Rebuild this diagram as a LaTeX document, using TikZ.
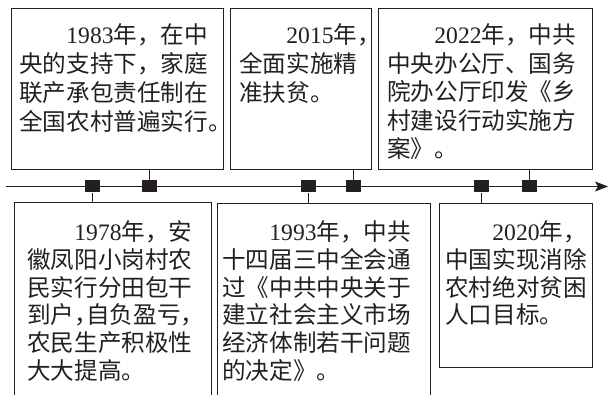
\documentclass[tikz,border=0pt]{standalone}
\usepackage{fontspec}
\setmainfont{Liberation Serif}
\newfontfamily\cjk{Noto Sans CJK SC}
\usetikzlibrary{arrows.meta}
\definecolor{ink}{HTML}{231F20}
\newcommand\yr[1]{{\rmfamily #1}}
\newcommand\hc[1]{\makebox[0.5em][l]{#1}}
\tikzset{
  txt/.style={anchor=base west, inner sep=0pt, font=\cjk\fontsize{23.6}{28}\selectfont, text=ink},
  boxn/.style={draw=ink, line width=0.9pt, rectangle, inner sep=0pt, anchor=north west},
  sq/.style={fill=ink, rectangle, minimum width=15pt, minimum height=12pt, inner sep=0pt},
  ln/.style={draw=ink, line width=0.9pt}
}
\begin{document}
\begin{tikzpicture}[x=1pt,y=-1pt]
\useasboundingbox (0,0) rectangle (610,395);
% boxes
\node[boxn, minimum width=212pt, minimum height=161pt] (b1) at (11,8) {};
\node[boxn, minimum width=141pt, minimum height=161pt] (b2) at (230,8) {};
\node[boxn, minimum width=214pt, minimum height=161pt] (b3) at (378,8) {};
\node[boxn, minimum width=197pt, minimum height=230pt] (b4) at (14,202.5) {};
\node[boxn, minimum width=213pt, minimum height=230pt] (b5) at (217,203) {};
\node[boxn, minimum width=153pt, minimum height=164pt] (b6) at (439,203) {};
% timeline
\coordinate (t0) at (6,186.5);
\coordinate (t1) at (608,186.5);
\draw[ln, -{Stealth[length=13pt,width=10pt,inset=3pt]}] (t0) -- (t1);
\node[sq] (s1) at (92.5,186.5) {};
\node[sq] (s2) at (149.5,186.5) {};
\node[sq] (s3) at (308,186.5) {};
\node[sq] (s4) at (353,186.5) {};
\node[sq] (s5) at (481,186.5) {};
\node[sq] (s6) at (529,186.5) {};
% connectors
\draw[ln] (s2.north) -- (s2.north |- b1.south);
\draw[ln] (s4.north) -- (s4.north |- b2.south);
\draw[ln] (s6.north) -- (s6.north |- b3.south);
\draw[ln] (s1.south) -- (s1.south |- b4.north);
\draw[ln] (s3.south) -- (s3.south |- b5.north);
\draw[ln] (s5.south) -- (s5.south |- b6.north);
% texts
\foreach \t [count=\i from 0] in {{\hspace*{2em}\yr{1983}年，在中},{央的支持下，家庭},{联产承包责任制在},{全国农村普遍实行。}}
  \node[txt] (ta\i) at (19,{44+28.7*\i}) {\t};
\foreach \t [count=\i from 0] in {{\hspace*{2em}\yr{2015}年，},{全面实施精},{准扶贫。}}
  \node[txt] (tb\i) at (239,{44+28.7*\i}) {\t};
\foreach \t [count=\i from 0] in {{\hspace*{2em}\yr{2022}年，中共},{中央办公厅、国务},{院办公厅印发《乡},{村建设行动实施方},{案》。}}
  \node[txt] (tc\i) at (387,{44+28.5*\i}) {\t};
\foreach \t [count=\i from 0] in {{\hspace*{2em}\yr{1978}年，安},{徽凤阳小岗村农},{民实行分田包干},{到户\hc{，}自负盈亏，},{农民生产积极性},{大大提高。}}
  \node[txt] (td\i) at (27,{240.7+27.7*\i}) {\t};
\foreach \t [count=\i from 0] in {{\hspace*{2em}\yr{1993}年，中共},{十四届三中全会通},{过《中共中央关于},{建立社会主义市场},{经济体制若干问题},{的决定》。}}
  \node[txt] (te\i) at (222,{240.7+27.7*\i}) {\t};
\foreach \t [count=\i from 0] in {{\hspace*{2em}\yr{2020}年，},{中国实现消除},{农村绝对贫困},{人口目标。}}
  \node[txt] (tf\i) at (445,{240.7+27.7*\i}) {\t};
\end{tikzpicture}
\end{document}
